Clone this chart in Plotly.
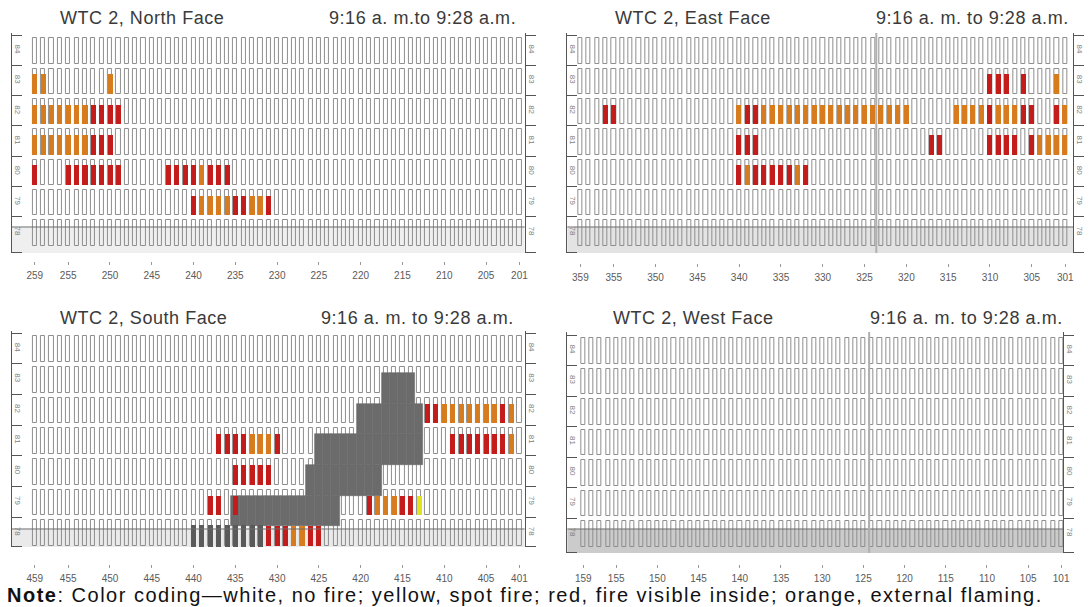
import plotly.graph_objects as go

W, H = 1090, 607

FLOORS = [84, 83, 82, 81, 80, 79, 78]

NORTH_COLS = list(range(259, 200, -1))
EAST_COLS = list(range(359, 300, -1))
SOUTH_COLS = list(range(459, 400, -1))
WEST_COLS = list(range(159, 100, -1))

NORTH_TICKS = [259, 255, 250, 245, 240, 235, 230, 225, 220, 215, 210, 205, 201]
EAST_TICKS = [359, 355, 350, 345, 340, 335, 330, 325, 320, 315, 310, 305, 301]
SOUTH_TICKS = [459, 455, 450, 445, 440, 435, 430, 425, 420, 415, 410, 405, 401]
WEST_TICKS = [159, 155, 150, 145, 140, 135, 130, 125, 120, 115, 110, 105, 101]

# Window status runs per floor: (first column, codes for consecutive columns going down)
# r = fire visible inside, o = external flaming, y = spot fire, d = obscured window
NORTH_FIRE = {
    83: [(259, "oo"), (250, "o")],
    82: [(259, "ooooooorrrr")],
    81: [(259, "ooooooorrr")],
    80: [(259, "r"), (255, "rrrrrrr"), (243, "rrrrorrr")],
    79: [(240, "roooorroor")],
}
EAST_FIRE = {
    83: [(310, "rrr"), (306, "r"), (302, "o")],
    82: [(356, "rr"), (340, "orroooooooooooooooooo"), (314, "oooorooorr"), (302, "ro")],
    81: [(340, "rrr"), (317, "rr"), (310, "rrrr"), (305, "roooo")],
    80: [(340, "rorrrrror")],
}
SOUTH_FIRE = {
    82: [(412, "rroooooooro")],
    81: [(437, "rrrrooor"), (409, "rrrrrrro")],
    80: [(435, "rrrrr")],
    79: [(438, "rr"), (435, "r"), (419, "rooorry")],
    78: [(440, "ddddddddd"), (431, "rrroorr")],
}
WEST_FIRE = {}

# Impact damage area on the south face: (first column, number of columns)
SOUTH_DAMAGE = {
    83: [(417, 4)],
    82: [(420, 8)],
    81: [(425, 13)],
    80: [(426, 9)],
    79: [(435, 13)],
}

STATUS_COLORS = {"r": "#c41c1a", "o": "#d77b1f", "y": "#e0e41e", "d": "#5a5a5a"}
DAMAGE_COLOR = "#6b6b6b"
DAMAGE_DROP = 0.3   # damage patches sit from window head down into the spandrel below
FONT = "Liberation Sans, Arial, sans-serif"

panels = [
    dict(title="WTC 2, North Face", time="9:16 a. m.to 9:28 a.m.", cols=NORTH_COLS,
         ticks=NORTH_TICKS, fire=NORTH_FIRE, damage={}, seam=None,
         left=12, right=528, top=33, bottom=253, c0=35, pitch=8.41, ytop=35, rowh=30.33,
         slab=78.17, xaxis_y=261, haze=0.14,
         title_x=58, time_x=521, title_y=18),
    dict(title="WTC 2, East Face", time="9:16 a. m. to 9:28 a.m.", cols=EAST_COLS,
         ticks=EAST_TICKS, fire=EAST_FIRE, damage={}, seam=323.6,
         left=571, right=1080, top=33, bottom=253, c0=584.1, pitch=8.414, ytop=35, rowh=30.33,
         slab=78.17, xaxis_y=263, haze=0.24,
         title_x=617, time_x=1078, title_y=18),
    dict(title="WTC 2, South Face", time="9:16 a. m. to 9:28 a.m.", cols=SOUTH_COLS,
         ticks=SOUTH_TICKS, fire=SOUTH_FIRE, damage=SOUTH_DAMAGE, seam=None,
         left=12, right=528, top=331, bottom=547, c0=35, pitch=8.41, ytop=333, rowh=30.67,
         slab=78.11, xaxis_y=564, haze=0.18,
         title_x=58, time_x=519, title_y=318),
    dict(title="WTC 2, West Face", time="9:16 a. m. to 9:28 a.m.", cols=WEST_COLS,
         ticks=WEST_TICKS, fire=WEST_FIRE, damage={}, seam=124.3,
         left=571, right=1070, top=332, bottom=553, c0=587, pitch=8.293, ytop=335, rowh=30.5,
         slab=78.14, xaxis_y=564, haze=0.45,
         title_x=615, time_x=1072, title_y=318),
]


def axis_id(letter, k):
    return letter if k == 1 else f"{letter}{k}"


def axis_key(letter, k):
    return f"{letter}axis" if k == 1 else f"{letter}axis{k}"


def spaced(text, px):
    return f'<span style="letter-spacing:{px}px">{text}</span>'


fig = go.Figure()
layout = {}
shapes = []
annotations = []

for k, p in enumerate(panels, start=1):
    xa, ya, ya_r = axis_id("x", k), axis_id("y", k), axis_id("y", k + 4)
    first = p["cols"][0]
    xr = [first + (p["c0"] - p["left"]) / p["pitch"], first - (p["right"] - p["c0"]) / p["pitch"]]
    yr = [84.5 - (p["bottom"] - p["ytop"]) / p["rowh"], 84.5 + (p["ytop"] - p["top"]) / p["rowh"]]
    xdom = [p["left"] / W, p["right"] / W]
    ydom = [1 - p["bottom"] / H, 1 - p["top"] / H]
    bounds = [f + 0.5 for f in FLOORS] + [yr[0] + 0.02]

    # window grid
    wx, wy, wb = [], [], []
    for f in FLOORS:
        for c in p["cols"]:
            wx.append(c)
            wy.append(0.84)
            wb.append(f - 0.45)
    fig.add_trace(go.Bar(x=wx, y=wy, base=wb, width=0.5, xaxis=xa, yaxis=ya,
                         marker=dict(color="white", line=dict(color="#8e8e8e", width=1)),
                         hoverinfo="skip", showlegend=False))

    # greyed band below the floor-78 slab line
    fig.add_trace(go.Bar(x=[(xr[0] + xr[1]) / 2], y=[p["slab"] - yr[0]], base=[yr[0]],
                         width=[abs(xr[0] - xr[1])], xaxis=xa, yaxis=ya, opacity=p["haze"],
                         marker=dict(color="#8c8c8c", line=dict(width=0)),
                         hoverinfo="skip", showlegend=False))

    # damaged area
    dx, dy, db = [], [], []
    for f, runs in p["damage"].items():
        for start, n in runs:
            for j in range(n):
                dx.append(start - j)
                dy.append(1.0)
                db.append(f - 0.5 - DAMAGE_DROP)
    if dx:
        fig.add_trace(go.Bar(x=dx, y=dy, base=db, width=1.0, xaxis=xa, yaxis=ya,
                             marker=dict(color=DAMAGE_COLOR, line=dict(color=DAMAGE_COLOR, width=0.6)),
                             hoverinfo="skip", showlegend=False))

    # fire status
    fx, fy, fb, fc = [], [], [], []
    for f, runs in p["fire"].items():
        for start, codes in runs:
            for j, code in enumerate(codes):
                fx.append(start - j)
                fy.append(0.72 if code == "d" else 0.65)
                fb.append(f - 0.47 if code == "d" else f - 0.45)
                fc.append(STATUS_COLORS[code])
    if fx:
        fig.add_trace(go.Bar(x=fx, y=fy, base=fb, width=0.6, xaxis=xa, yaxis=ya,
                             marker=dict(color=fc, line=dict(width=0)),
                             hoverinfo="skip", showlegend=False))

    # keeps the right-hand floor axis alive
    fig.add_trace(go.Scatter(x=[first], y=[84], xaxis=xa, yaxis=ya_r, mode="markers",
                             marker=dict(opacity=0), hoverinfo="skip", showlegend=False))

    layout[axis_key("x", k)] = dict(
        domain=xdom, range=xr, anchor="free", position=1 - p["xaxis_y"] / H,
        showline=False, showgrid=False, zeroline=False,
        tickmode="array", tickvals=p["ticks"], ticks="outside", ticklen=3, tickcolor="#999",
        tickfont=dict(family=FONT, size=10, color="#5a5a5a"), ticklabelstandoff=2,
        fixedrange=True)
    axis_common = dict(
        domain=ydom, range=yr, showline=True, linecolor="#555", linewidth=1,
        showgrid=False, zeroline=False, tickmode="array", tickvals=FLOORS, ticks="",
        tickangle=90, tickfont=dict(family=FONT, size=8, color="#808080"),
        fixedrange=True)
    layout[axis_key("y", k)] = dict(
        anchor=xa, ticklabelposition="inside",
        minor=dict(tickmode="array", tickvals=bounds, ticks="inside", ticklen=10,
                   tickcolor="#555", tickwidth=1, showgrid=False),
        **axis_common)
    layout[axis_key("y", k + 4)] = dict(
        anchor=xa, overlaying=ya, side="right",
        minor=dict(tickmode="array", tickvals=bounds, ticks="outside", ticklen=10,
                   tickcolor="#555", tickwidth=1, showgrid=False),
        **axis_common)

    shapes.append(dict(type="line", xref=f"{xa} domain", yref=ya, x0=0, x1=1,
                       y0=p["slab"], y1=p["slab"], line=dict(color="#6e6e6e", width=1)))
    if p["seam"] is not None:
        shapes.append(dict(type="line", xref=xa, yref=f"{ya} domain", x0=p["seam"], x1=p["seam"],
                           y0=0, y1=1, line=dict(color="#b0b0b0", width=2)))

    annotations.append(dict(text=spaced(p["title"], 0.55), xref="paper", yref="paper",
                            x=p["title_x"] / W, y=1 - p["title_y"] / H, xanchor="left",
                            yanchor="middle", showarrow=False,
                            font=dict(family=FONT, size=18, color="#3a3a3a")))
    annotations.append(dict(text=spaced(p["time"], 0.55), xref="paper", yref="paper",
                            x=p["time_x"] / W, y=1 - p["title_y"] / H, xanchor="right",
                            yanchor="middle", showarrow=False,
                            font=dict(family=FONT, size=18, color="#3a3a3a")))

annotations.append(dict(
    text=spaced("<b>Note</b>: Color coding\u2014white, no fire; yellow, spot fire; "
                "red, fire visible inside; orange, external flaming.", 1.5),
    xref="paper", yref="paper", x=5 / W, y=1 - 595 / H, xanchor="left", yanchor="middle",
    showarrow=False, font=dict(family=FONT, size=20, color="#111")))

fig.update_layout(
    width=W, height=H, margin=dict(l=0, r=0, t=0, b=0),
    paper_bgcolor="white", plot_bgcolor="white", barmode="overlay", bargap=0,
    shapes=shapes, annotations=annotations, showlegend=False, **layout)

fig.write_html("out.html", config={"displayModeBar": False})
